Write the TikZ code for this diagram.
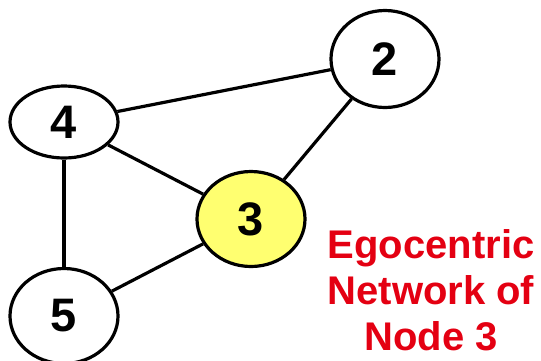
\documentclass[tikz,border=0pt]{standalone}
\usepackage{fontspec}
\setmainfont{Liberation Sans}
\usepackage{xcolor}
\usepackage{tikz}
\usetikzlibrary{shapes.geometric}

\definecolor{egoyellow}{RGB}{255,255,112}
\definecolor{egored}{RGB}{228,0,18}

\begin{document}
\begin{tikzpicture}[
    x=1pt, y=-1pt,
    vertex/.style={draw, ellipse, line width=3.2pt, fill=white, inner sep=0pt, minimum width=108pt, minimum height=72pt, font=\fontsize{47}{47}\selectfont\bfseries},
    ego/.style={vertex, fill=egoyellow, minimum height=95pt},
    link/.style={draw, line width=3.2pt}
]
\useasboundingbox (0,0) rectangle (541,360);
\node[vertex, minimum height=97pt] (n2) at (385,59) {2};
\node[ego] (n3) at (251,219) {3};
\node[vertex] (n4) at (64,122) {4};
\node[vertex, minimum height=95pt] (n5) at (64,316) {5};

\draw[link] (n4) -- (n2);
\draw[link] (n4) -- (n3);
\draw[link] (n2) -- (n3);
\draw[link] (n4) -- (n5);
\draw[link] (n5) -- (n3);

\node[align=center, inner sep=0pt, text=egored, font=\fontsize{40}{46}\selectfont\bfseries] (caption) at (431,290) {Egocentric\\Network of\\Node 3};
\end{tikzpicture}
\end{document}
